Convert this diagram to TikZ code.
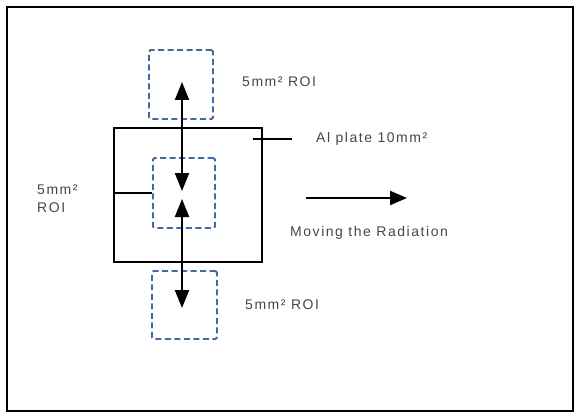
\documentclass[tikz,border=0pt]{standalone}
\usepackage{fontspec}
\usetikzlibrary{arrows.meta}
\newfontfamily\lblfont[LetterSpace=11]{Liberation Sans}
\definecolor{roiblue}{RGB}{70,104,156}
\definecolor{lblgray}{RGB}{70,70,70}

\begin{document}
\begin{tikzpicture}[x=1pt,y=1pt,yscale=-1,
  roi/.style={draw=roiblue, line width=1.8pt, dash pattern=on 6pt off 3.5pt, rounded corners=1.5pt, inner sep=0pt},
  lbl/.style={text=lblgray, font=\lblfont\fontsize{14}{18}\selectfont, inner sep=0pt, anchor=west, align=left},
  wire/.style={line width=2.2pt},
  movearrow/.style={wire, -{Triangle[length=17pt,width=14pt]}},
  roiarrow/.style={wire, {Triangle[length=18pt,width=14pt]}-{Triangle[length=18pt,width=14pt]}}]
\useasboundingbox (0,0) rectangle (578,417);

%Frame
\draw [line width=2.4pt] (7,7) rectangle (573,411);

%Al plate
\node [draw, line width=2.2pt, minimum width=148pt, minimum height=134pt, inner sep=0pt] (plate) at (188,195) {};

%ROI boxes
\node [roi, minimum width=64pt, minimum height=69pt] (roitop) at (181,84.5) {};
\node [roi, minimum width=62pt, minimum height=70pt] (roimid) at (184,193) {};
\node [roi, minimum width=65pt, minimum height=68pt] (roibot) at (184.5,305) {};

%Arrows between ROI
\coordinate (uptip) at (182,82);
\coordinate (midup) at (182,191);
\coordinate (middown) at (182,199);
\coordinate (downtip) at (182,308);
\draw [roiarrow] (midup) -- (uptip);
\draw [roiarrow] (middown) -- (downtip);

%Moving arrow
\coordinate (movestart) at (306,198);
\coordinate (moveend) at (407,198);
\draw [movearrow] (movestart) -- (moveend);

%Leader lines
\coordinate (platetick) at (253,139);
\coordinate (platetickend) at (292,139);
\draw [wire] (platetick) -- (platetickend);
\draw [wire] (roimid.west -| plate.west) -- (roimid.west);

% Text Node
\node [lbl] (toplbl) at (242,82) {5mm² ROI};
% Text Node
\node [lbl] (platelbl) at (316,139) {Al plate 10mm²};
% Text Node
\node [lbl] (leftlbl) at (37,199) {5mm²\\ROI};
% Text Node
\node [lbl] (movelbl) at (290,233) {Moving the Radiation};
% Text Node
\node [lbl] (botlbl) at (245,305) {5mm² ROI};

\end{tikzpicture}
\end{document}
